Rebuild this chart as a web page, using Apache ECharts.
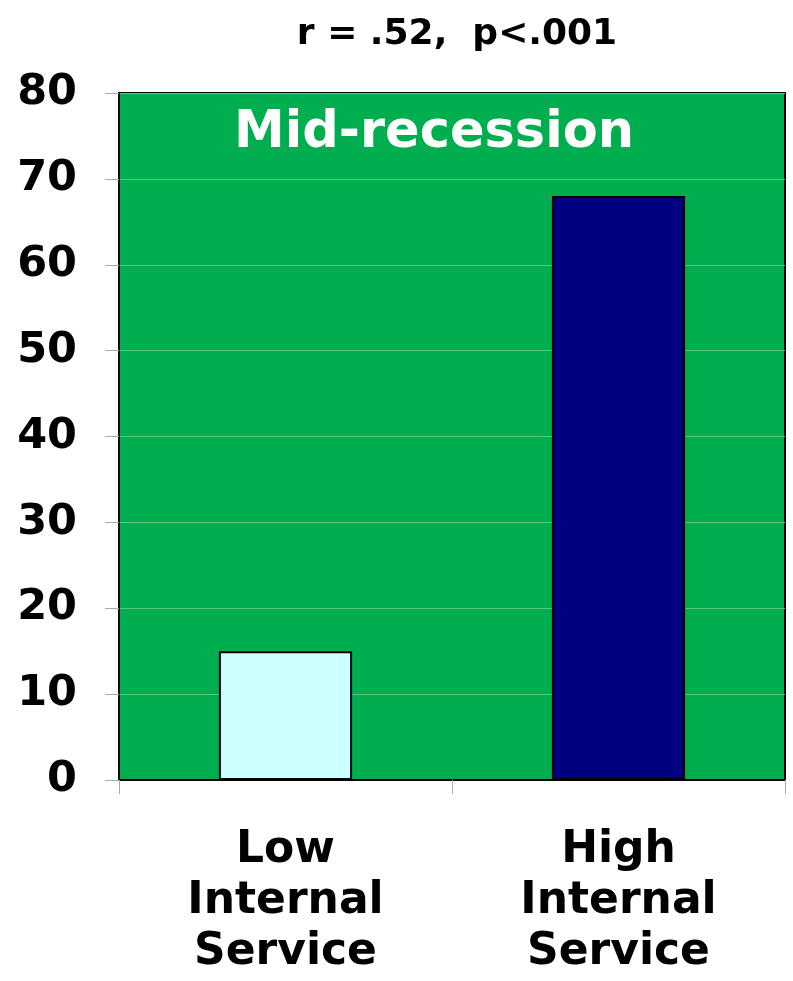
<!DOCTYPE html>
<html>
<head>
<meta charset="utf-8">
<style>
  html, body { margin: 0; padding: 0; background: #ffffff; }
  #chart { width: 793px; height: 981px; }
</style>
<script src="https://cdn.jsdelivr.net/npm/echarts@6/dist/echarts.min.js"></script>
</head>
<body>
<div id="chart"></div>
<script>
// Share of units (%) by internal service level
const categories = ['Low\nInternal\nService', 'High\nInternal\nService'];
const values = [15, 68];
const barColors = ['#ccffff', '#000080'];
const yTicks = [0, 10, 20, 30, 40, 50, 60, 70, 80];

const statText = 'r = .52,  p<.001';
const panelText = 'Mid-recession';

const FONT = '"DejaVu Sans", Verdana, sans-serif';

const chart = echarts.init(document.getElementById('chart'), null, { renderer: 'canvas' });

chart.setOption({
  animation: false,
  backgroundColor: '#ffffff',
  grid: {
    left: 119, right: 8, top: 93, bottom: 201,
    show: true,
    backgroundColor: '#00ae4f',
    borderColor: '#000000',
    borderWidth: 2
  },
  xAxis: {
    type: 'category',
    data: categories,
    boundaryGap: true,
    axisLine: { show: true, lineStyle: { color: '#000000', width: 2 } },
    axisTick: { show: true, alignWithLabel: false, length: 14, lineStyle: { color: '#aaaaaa', width: 1 } },
    axisLabel: {
      color: '#000000',
      fontFamily: FONT,
      fontWeight: 'bold',
      fontSize: 44,
      lineHeight: 51,
      margin: 45
    },
    splitLine: { show: false }
  },
  yAxis: {
    type: 'value',
    min: yTicks[0],
    max: yTicks[yTicks.length - 1],
    interval: 10,
    axisLine: { show: true, lineStyle: { color: '#000000', width: 2 } },
    axisTick: { show: true, inside: false, length: 14, lineStyle: { color: '#aaaaaa', width: 1 } },
    axisLabel: {
      color: '#000000',
      fontFamily: FONT,
      fontWeight: 'bold',
      fontSize: 43,
      margin: 42
    },
    splitLine: { show: true, lineStyle: { color: '#55c985', width: 1 } }
  },
  series: [{
    type: 'bar',
    data: values.map((v, i) => ({ value: v, itemStyle: { color: barColors[i] } })),
    barWidth: '40%',
    itemStyle: { borderColor: '#000000', borderWidth: 2 }
  }],
  graphic: [
    {
      type: 'text',
      x: 457, y: 35,
      style: {
        text: statText,
        fill: '#000000',
        font: 'bold 36px ' + FONT,
        textAlign: 'center',
        textVerticalAlign: 'middle'
      }
    },
    {
      type: 'text',
      x: 434, y: 134,
      z: 10,
      style: {
        text: panelText,
        fill: '#ffffff',
        font: 'bold 51px ' + FONT,
        textAlign: 'center',
        textVerticalAlign: 'middle'
      }
    }
  ]
});
</script>
</body>
</html>
